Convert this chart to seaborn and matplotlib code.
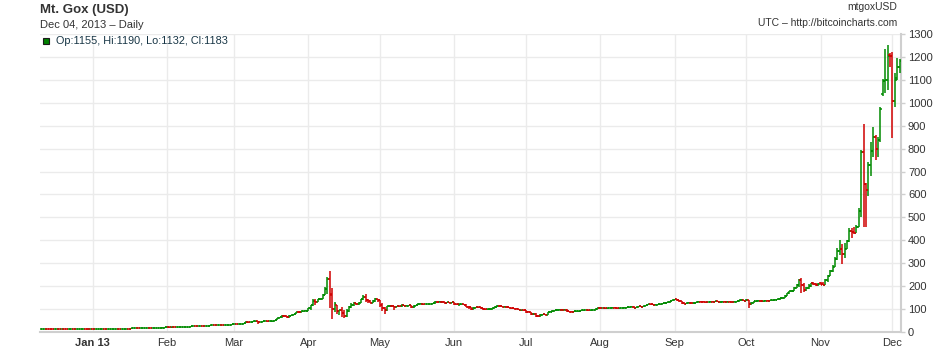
import numpy as np
import pandas as pd
import matplotlib
matplotlib.use("Agg")
import matplotlib.pyplot as plt
import matplotlib.dates as mdates
from matplotlib.patches import Rectangle
import seaborn as sns

# ---------------- data: daily OHLC, Mt. Gox, 2012-12-10 .. 2013-12-04 ----------------
start_date = "2012-12-10"

opens = [
    # Dec 2012
    13.4,13.5,13.6,13.7,13.6,13.5,13.4,13.4,13.5,13.4,13.5,13.4,13.3,13.4,13.4,13.3,13.4,13.4,13.4,13.5,13.4,13.3,
    # Jan
    13.5,13.3,13.4,13.4,13.4,13.5,13.4,13.6,13.7,14.0,14.2,14.3,14.2,14.2,14.3,14.4,14.3,15.6,15.6,15.8,15.7,15.9,16.9,17.2,17.4,17.2,17.3,17.8,18.6,19.4,19.6,
    # Feb
    20.4,20.5,19.8,20.6,20.4,20.6,21.0,21.5,22.4,22.8,23.6,24.5,25.0,24.6,26.9,27.1,26.4,26.8,26.9,29.4,29.8,29.6,29.8,30.3,29.7,30.2,31.0,31.2,
    # Mar
    33.4,34.5,34.3,34.5,36.2,40.3,44.2,42.0,44.2,46.0,46.9,44.0,44.2,46.9,47.0,46.9,47.0,47.0,51.0,59.2,64.5,70.9,69.9,64.3,71.5,74.9,78.3,88.9,86.2,90.5,92.2,
    # Apr
    93,104,117,135,132,142,143,162,187,230,160,100,118,92,94,82,68,92,110,119,126,121,127,143,154,141,137,128,135,144,
    # May
    139,116,105,97,112,115,112,110,113,112,117,115,115,117,111,114,118,123,123,121,122,122,123,126,133,131,133,129,128,132,127,
    # Jun
    129,122,121,121,121,119,110,108,100,106,109,108,103,100,99,99,101,106,110,114,113,111,111,109,105,103,102,101,95,97,
    # Jul
    94,89,88,78,80,70,68,75,77,76,88,89,93,94,98,98,97,98,90,89,88,91,91,91,94,96,96,95,95,97,101,
    # Aug
    106,104,105,104,104,105,106,105,103,104,105,106,107,109,111,106,109,112,110,113,117,121,120,118,119,120,121,126,128,129,135,
    # Sep
    140,142,139,136,126,124,126,128,125,128,131,133,132,131,130,132,133,132,134,131,132,133,132,133,132,131,133,134,138,140,
    # Oct
    137,140,120,128,134,135,136,134,136,137,136,138,139,141,142,149,150,158,168,177,181,194,205,225,205,185,190,200,212,208,204,
    # Nov
    212,210,207,225,245,265,285,318,355,362,340,362,395,440,436,433,460,530,785,645,620,730,790,850,800,837,1040,1095,1100,1210,
    # Dec 2013
    1206,1008,1107,1155,
]

highs = [
    13.7,13.7,13.8,13.8,13.7,13.6,13.5,13.6,13.6,13.6,13.6,13.5,13.5,13.5,13.5,13.5,13.5,13.5,13.6,13.6,13.5,13.6,
    13.6,13.5,13.6,13.6,13.6,13.6,13.7,13.8,14.1,14.4,14.5,14.4,14.3,14.4,14.6,14.5,15.8,15.9,16.0,15.9,16.2,17.2,17.4,17.6,17.5,17.5,18.0,18.8,19.6,19.9,20.6,
    20.9,20.6,20.8,20.8,20.8,21.2,21.7,22.6,23.0,23.8,24.8,25.3,25.2,27.2,27.5,27.3,27.0,27.2,29.7,30.0,30.1,30.0,30.6,30.4,30.4,31.3,31.6,33.6,
    34.9,34.9,34.9,36.7,41.0,48.4,44.8,44.6,46.8,48.4,47.3,44.9,47.4,47.5,47.5,47.3,47.6,51.6,59.9,66.0,74.9,76.0,71.0,72.5,75.0,79.0,89.0,90.0,92.0,93.0,95.0,
    105,118,146,143,143,148,166,198,240,268,190,132,118,96,111,96,100,115,125,130,128,129,145,162,166,143,140,138,147,146,
    140,125,108,115,118,118,113,115,114,122,118,118,119,118,116,119,125,125,124,124,124,124,127,134,134,135,135,130,133,133,131,
    130,124,124,123,122,120,112,110,108,111,110,109,105,102,101,103,108,112,118,117,115,114,112,110,106,104,104,102,98,98,
    95,91,89,82,81,72,77,78,78,89,91,95,96,99,100,99,99,99,91,90,92,92,92,95,97,97,97,96,98,103,108,
    107,106,106,105,106,107,107,106,105,106,107,108,110,112,112,110,113,113,114,118,123,123,121,120,121,122,127,130,131,136,141,
    146,143,141,137,130,128,130,129,130,133,135,134,134,132,133,134,134,135,135,133,134,134,134,134,133,134,135,139,142,141,
    142,141,132,137,137,138,138,137,138,139,139,140,142,143,150,152,160,170,180,184,196,210,230,237,212,198,209,213,219,212,212,
    216,218,230,249,270,292,329,365,400,384,387,402,452,452,459,466,539,794,906,648,743,830,896,859,852,983,1102,1233,1252,1216,
    1220,1128,1194,1190,
]

lows = [
    13.3,13.4,13.5,13.5,13.4,13.3,13.3,13.3,13.3,13.3,13.3,13.2,13.2,13.3,13.2,13.2,13.3,13.3,13.3,13.3,13.2,13.2,
    13.2,13.2,13.3,13.3,13.3,13.3,13.3,13.5,13.6,13.9,14.1,14.1,14.0,14.1,14.2,14.2,14.2,15.3,15.4,15.5,15.5,15.8,16.7,17.0,17.0,17.0,17.2,17.6,18.4,19.2,19.4,
    20.1,19.4,19.6,20.1,20.2,20.4,20.9,21.3,22.2,22.6,23.4,24.3,24.2,24.5,26.5,26.1,26.2,26.5,26.8,29.0,29.3,29.2,29.6,29.4,29.5,30.0,30.8,31.0,
    33.2,33.6,33.8,34.3,36.0,40.0,41.0,41.6,43.8,45.6,37.0,43.0,43.9,46.5,45.4,46.6,45.6,46.8,50.5,59.0,63.0,65.0,60.0,63.0,70.0,74.0,78.0,82.0,85.0,88.0,90.5,
    92,98,112,118,131,138,142,160,164,105,57,89,77,74,67,60,64,88,104,113,117,118,125,140,130,126,126,127,133,130,
    107,92,79,92,110,107,97,109,109,111,112,113,114,105,103,112,117,120,119,120,120,121,122,124,128,130,125,124,127,125,126,
    118,116,115,117,117,107,102,98,96,104,104,101,97,96,97,98,100,104,108,110,110,108,106,104,100,100,99,94,93,92,
    84,86,76,76,66,65,67,73,74,75,86,88,91,93,96,95,96,89,87,86,87,89,89,90,93,94,93,93,94,96,100,
    101,103,102,102,103,104,104,102,102,103,104,105,106,108,104,105,108,109,109,112,116,118,116,116,117,118,120,124,126,128,134,
    138,136,132,122,122,120,125,122,124,127,130,130,130,128,129,131,131,131,130,129,131,131,130,131,130,130,132,133,136,135,
    135,106,119,127,132,134,133,133,134,135,135,136,138,139,141,145,149,157,166,173,179,190,198,172,176,180,188,196,203,200,202,
    203,205,206,220,243,262,283,314,334,295,321,360,393,408,428,430,458,500,459,459,595,682,765,750,765,830,1030,1041,1056,1157,
    845,983,1100,1132,
]

closes = [
    13.5,13.6,13.7,13.6,13.5,13.4,13.4,13.5,13.4,13.5,13.4,13.3,13.4,13.4,13.3,13.4,13.4,13.4,13.5,13.4,13.3,13.5,
    13.3,13.4,13.4,13.4,13.5,13.4,13.6,13.7,14.0,14.2,14.3,14.2,14.2,14.3,14.4,14.3,15.6,15.6,15.8,15.7,15.9,16.9,17.2,17.4,17.2,17.3,17.8,18.6,19.4,19.6,20.4,
    20.5,19.8,20.6,20.4,20.6,21.0,21.5,22.4,22.8,23.6,24.5,25.0,24.6,26.9,27.1,26.4,26.8,26.9,29.4,29.8,29.6,29.8,30.3,29.7,30.2,31.0,31.2,33.4,
    34.5,34.3,34.5,36.2,40.3,44.2,42.0,44.2,46.0,46.9,44.0,44.2,46.9,47.0,46.9,47.0,47.0,51.0,59.2,64.5,70.9,69.9,64.3,71.5,74.9,78.3,88.9,86.2,90.5,92.2,93.0,
    104,117,135,132,142,143,162,187,230,165,100,120,92,94,82,68,92,110,119,126,121,127,143,154,141,137,128,135,144,139,
    116,105,97,112,115,112,110,113,112,117,115,115,117,111,114,118,123,123,121,122,122,123,126,133,131,133,129,128,132,127,129,
    122,121,121,121,119,110,108,100,106,109,108,103,100,99,99,101,106,110,114,113,111,111,109,105,103,102,101,95,97,94,
    89,88,78,80,70,68,75,77,76,88,89,93,94,98,98,97,98,90,89,88,91,91,91,94,96,96,95,95,97,101,106,
    104,105,104,104,105,106,105,103,104,105,106,107,109,111,106,109,112,110,113,117,121,120,118,119,120,121,126,128,129,135,140,
    142,139,136,126,124,126,128,125,128,131,133,132,131,130,132,133,132,134,131,132,133,132,133,132,131,133,134,138,140,137,
    140,120,128,134,135,136,134,136,137,136,138,139,141,142,149,150,158,168,177,181,194,205,225,205,185,190,200,212,208,204,210,
    206,207,225,245,265,285,318,355,362,340,362,395,440,436,433,460,530,785,645,620,730,790,850,800,837,975,1095,1100,1205,1206,
    1008,1100,1155,1183,
]

month_ticks = ["2013-01-01", "2013-02-01", "2013-03-01", "2013-04-01", "2013-05-01", "2013-06-01",
               "2013-07-01", "2013-08-01", "2013-09-01", "2013-10-01", "2013-11-01", "2013-12-01"]
month_labels = ["Jan 13", "Feb", "Mar", "Apr", "May", "Jun", "Jul", "Aug", "Sep", "Oct", "Nov", "Dec"]
y_ticks = list(range(0, 1301, 100))

title = "Mt. Gox (USD)"
subtitle = "Dec 04, 2013 \u2013 Daily"
symbol = "mtgoxUSD"
source = "UTC \u2013 http://bitcoincharts.com"
legend_text = "Op:1155, Hi:1190, Lo:1132, Cl:1183"

# ---------------- style ----------------
sns.set_theme(style="whitegrid")
plt.rcParams['font.family'] = ['Liberation Sans', 'DejaVu Sans']

UP = "#008a00"
DOWN = "#d00000"
TXT = "#333333"
GRID = "#ebebeb"
SPINE = "#cfcfcf"

df = pd.DataFrame({
    "date": pd.date_range(start_date, periods=len(closes), freq="D"),
    "open": opens, "high": highs, "low": lows, "close": closes,
})
df["x"] = mdates.date2num(df["date"])
df["up"] = df["close"] >= df["open"]

W, H = 940, 348
fig = plt.figure(figsize=(W / 100, H / 100), dpi=100)
ax = fig.add_axes([40 / W, 16 / H, 861 / W, 298 / H])
ax.set_facecolor("white")

tick_w = 0.8
for is_up, color in [(True, UP), (False, DOWN)]:
    d = df[df["up"] == is_up]
    ax.vlines(d["x"], d["low"], d["high"], color=color, lw=1.1, zorder=3)
    ax.hlines(d["open"], d["x"] - tick_w, d["x"], color=color, lw=1.1, zorder=3)
    ax.hlines(d["close"], d["x"], d["x"] + tick_w, color=color, lw=1.1, zorder=3)

ax.set_xlim(mdates.date2num(pd.Timestamp("2012-12-10")) - 0.05,
            mdates.date2num(pd.Timestamp("2013-12-04")) + 0.6)
ax.set_ylim(0, 1300)

ax.set_xticks(mdates.date2num(pd.to_datetime(month_ticks)))
ax.set_xticklabels(month_labels)
ax.get_xticklabels()[0].set_fontweight("bold")
ax.set_yticks(y_ticks)
ax.set_yticklabels([str(v) for v in y_ticks])
ax.yaxis.tick_right()

ax.grid(True, color=GRID, lw=1.0, zorder=0)
sns.despine(ax=ax, left=True, top=True, right=False, bottom=False)
for s in ("right", "bottom"):
    ax.spines[s].set_color(SPINE)
    ax.spines[s].set_linewidth(1.5)

ax.tick_params(axis="x", length=0, pad=4, labelsize=8, labelcolor=TXT)
ax.tick_params(axis="y", which="both", right=True, left=False, labelright=True, labelleft=False,
               length=3, width=1, color=SPINE, pad=2, labelsize=8, labelcolor=TXT)
ax.set_xlabel("")
ax.set_ylabel("")

# ---------------- header texts ----------------
fig.text(40 / W, 1 - 10.5 / H, title, fontsize=9.5, fontweight="bold", color=TXT, va="center", ha="left")
fig.text(40 / W, 1 - 24.5 / H, subtitle, fontsize=8, color=TXT, va="center", ha="left")
fig.text(897 / W, 1 - 6.5 / H, symbol, fontsize=7.5, color=TXT, va="center", ha="right")
fig.text(897 / W, 1 - 23.5 / H, source, fontsize=7.5, color=TXT, va="center", ha="right")

fig.add_artist(Rectangle((42.5 / W, 1 - 44 / H), 6 / W, 6 / H, transform=fig.transFigure,
                         facecolor="#008000", edgecolor="#1a1a1a", lw=0.8, zorder=5))
fig.text(56.5 / W, 1 - 41 / H, legend_text, fontsize=7.8, color="#173545", va="center", ha="left")

fig.savefig("out.png", dpi=100, facecolor="white")
